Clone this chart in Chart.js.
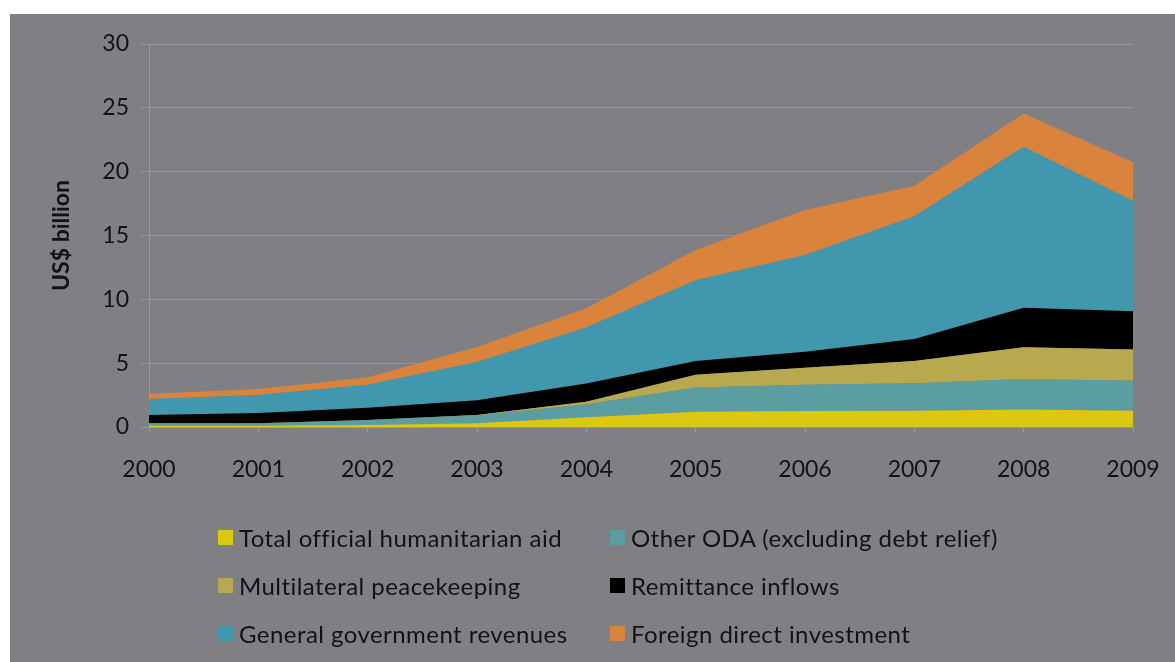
<!DOCTYPE html>
<html>
<head>
<meta charset="utf-8">
<script src="https://cdn.jsdelivr.net/npm/chart.js@4/dist/chart.umd.min.js"></script>
<style>
  html, body { margin: 0; padding: 0; background: #ffffff; }
  #panel {
    position: absolute; left: 10px; top: 14px;
    width: 1165px; height: 648px;
    background: #807f84;
  }
  #chart { position: absolute; left: 0; top: 0; }
  #legend {
    position: absolute; left: 208px; top: 509px;
    display: grid; grid-template-columns: 392px 380px;
    row-gap: 20px;
    font-family: Lato, "Open Sans", sans-serif; font-size: 24px; letter-spacing: 0.45px; color: #121212;
  }
  .item { display: flex; align-items: center; height: 28px; white-space: nowrap; }
  .sw { width: 15px; height: 15px; margin-right: 6px; flex: none; }
</style>
</head>
<body>
<div id="panel">
  <canvas id="chart" width="1165" height="648"></canvas>
  <div id="legend"></div>
</div>
<script>
const years = ['2000', '2001', '2002', '2003', '2004', '2005', '2006', '2007', '2008', '2009'];

const humanitarianAid = [0.10, 0.10, 0.15, 0.30, 0.76, 1.20, 1.25, 1.28, 1.38, 1.28];
const otherOda = [0.15, 0.18, 0.40, 0.60, 1.02, 1.90, 2.05, 2.14, 2.38, 2.35];
const peacekeeping = [0.05, 0.02, 0.00, 0.04, 0.20, 1.00, 1.35, 1.75, 2.48, 2.45];
const remittances = [0.64, 0.80, 0.95, 1.16, 1.42, 1.07, 1.25, 1.73, 3.11, 2.98];
const govRevenues = [1.25, 1.40, 1.80, 2.99, 4.40, 6.33, 7.57, 9.60, 12.60, 8.64];
const fdi = [0.39, 0.48, 0.60, 1.17, 1.50, 2.36, 3.53, 2.40, 2.61, 3.03];

const seriesNames = [
    'Total official humanitarian aid',
    'Other ODA (excluding debt relief)',
    'Multilateral peacekeeping',
    'Remittance inflows',
    'General government revenues',
    'Foreign direct investment'
];
const seriesData = [humanitarianAid, otherOda, peacekeeping, remittances, govRevenues, fdi];
const seriesColors = ['#dcc80f', '#5a9ea1', '#b8a94f', '#000000', '#4197ae', '#d9833d'];

const yTicks = [0, 5, 10, 15, 20, 25, 30];

const datasets = seriesNames.map(function (name, i) {
    return {
        label: name,
        data: seriesData[i],
        backgroundColor: seriesColors[i],
        borderWidth: 0,
        pointRadius: 0,
        tension: 0,
        fill: i === 0 ? 'origin' : '-1'
    };
});

const ctx = document.getElementById('chart').getContext('2d');
new Chart(ctx, {
    type: 'line',
    data: { labels: years, datasets: datasets },
    options: {
        responsive: false,
        animation: false,
        layout: { padding: { left: 0, top: 30, right: 42, bottom: 155 } },
        plugins: { legend: { display: false }, tooltip: { enabled: false } },
        scales: {
            x: {
                offset: false,
                grid: { drawOnChartArea: false, drawTicks: true, tickLength: 6, color: '#9b9a9f' },
                border: { color: '#9b9a9f' },
                ticks: {
                    color: '#121212', padding: 23, maxRotation: 0,
                    font: { family: 'Lato', size: 23 }
                },
                afterFit: function (s) {
                    s.height = 80;
                    s.paddingLeft = 0;
                    s.paddingRight = 0;
                }
            },
            y: {
                stacked: true,
                min: 0, max: 30,
                afterBuildTicks: function (s) { s.ticks = yTicks.map(v => ({ value: v })); },
                grid: { color: '#949398', tickLength: 8 },
                border: { color: '#9b9a9f' },
                ticks: {
                    color: '#121212', padding: 12,
                    font: { family: 'Lato', size: 23 }
                },
                title: {
                    display: true, text: 'US$ billion', color: '#121212',
                    font: { family: 'Lato', size: 23, weight: 'bold' }, padding: { top: 38, bottom: 0 }
                },
                afterFit: function (s) { s.width = 139; }
            }
        }
    }
});

// legend, two columns, built from the same series
const legend = document.getElementById('legend');
seriesNames.forEach(function (name, i) {
    const item = document.createElement('div');
    item.className = 'item';
    const sw = document.createElement('span');
    sw.className = 'sw';
    sw.style.background = seriesColors[i];
    item.appendChild(sw);
    item.appendChild(document.createTextNode(name));
    legend.appendChild(item);
});
</script>
</body>
</html>
